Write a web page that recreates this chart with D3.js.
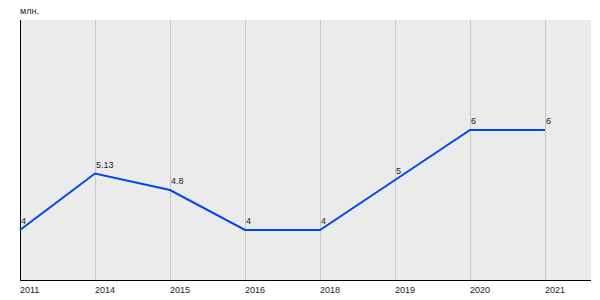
<!DOCTYPE html>
<html><head><meta charset="utf-8">
<script src="https://cdn.jsdelivr.net/npm/d3@7"></script>
<style>body{margin:0;background:#fff}svg{display:block}text{font-family:Arial,"Liberation Sans",sans-serif}</style>
</head><body>
<svg id="c" width="600" height="300"></svg>
<script>
const categories = ["2011","2014","2015","2016","2018","2019","2020","2021"];
const values = [4, 5.13, 4.8, 4, 4, 5, 6, 6];
const valueLabels = ["4","5.13","4.8","4","4","5","6","6"];
const unitLabel = "млн.";

const svg = d3.select("#c");
const L = 20, T = 20, R = 591, B = 280;
const x = d3.scaleLinear().domain([0, 7.613]).range([L, R]);
const y = d3.scaleLinear().domain([3, 8.2]).range([B, T]);

svg.append("rect").attr("x", L).attr("y", T).attr("width", R - L).attr("height", B - T).attr("fill", "#ebebeb");

svg.append("g").selectAll("line").data(categories.slice(1)).join("line")
  .attr("x1", (d, i) => x(i + 1) + 0.5).attr("x2", (d, i) => x(i + 1) + 0.5)
  .attr("y1", T).attr("y2", B).attr("stroke", "#c8c8c8").attr("stroke-width", 1);

svg.append("line").attr("x1", L + 0.5).attr("x2", L + 0.5).attr("y1", T).attr("y2", B).attr("stroke", "#000");
svg.append("line").attr("x1", L).attr("x2", R).attr("y1", B + 0.5).attr("y2", B + 0.5).attr("stroke", "#000");

const line = d3.line().x((d, i) => x(i)).y(d => y(d));
svg.append("path").datum(values).attr("d", line).attr("fill", "none")
  .attr("stroke", "#0047ef").attr("stroke-width", 2);

svg.append("g").selectAll("text").data(values).join("text")
  .attr("x", (d, i) => x(i) + 1).attr("y", d => y(d) - 6)
  .attr("font-size", 9).attr("fill", "#222").text((d, i) => valueLabels[i]);

svg.append("g").selectAll("text").data(categories).join("text")
  .attr("x", (d, i) => x(i)).attr("y", 293)
  .attr("font-size", 9).attr("fill", "#222").text(d => d);

svg.append("text").attr("x", 20).attr("y", 14).attr("font-size", 9).attr("fill", "#222").text(unitLabel);
</script>
</body></html>
